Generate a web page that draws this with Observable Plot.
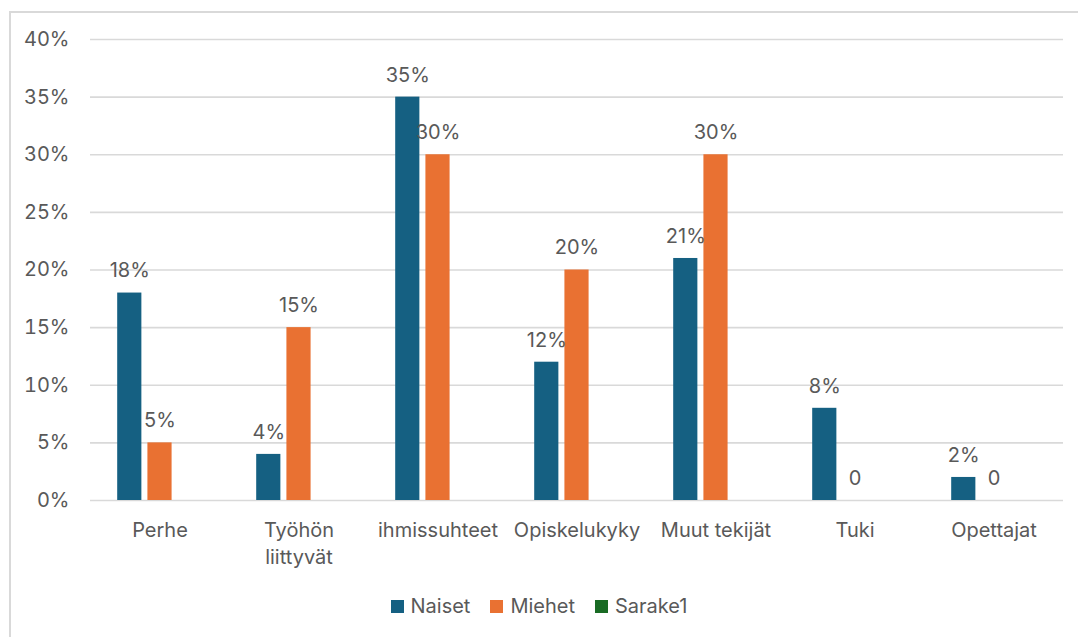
<!DOCTYPE html>
<html>
<head>
<meta charset="utf-8">
<script src="https://cdn.jsdelivr.net/npm/d3@7"></script>
<script src="https://cdn.jsdelivr.net/npm/@observablehq/plot@0.6"></script>
<style>
  html, body { margin: 0; padding: 0; background: #fff; width: 1078px; height: 637px; overflow: hidden; }
  #frame { position: absolute; left: 9px; top: 11px; width: 1200px; height: 800px;
           border-top: 2px solid #d9d9d9; border-left: 2px solid #d9d9d9; }
  #chart { position: absolute; left: 0; top: 0; }
  #legend { position: absolute; left: 0; width: 1078px; top: 594px; display: flex; justify-content: center;
            font-family: Inter, "Liberation Sans", sans-serif; font-size: 20px; color: #595959; }
  .item { display: flex; align-items: center; margin: 0 10px; }
  .sw { width: 13px; height: 13px; margin-right: 7px; }
</style>
</head>
<body>
<div id="frame"></div>
<div id="chart"></div>
<div id="legend"></div>
<script>
const categories = ["Perhe", "Työhön\nliittyvät", "ihmissuhteet", "Opiskelukyky", "Muut tekijät", "Tuki", "Opettajat"];
const naiset = [18, 4, 35, 12, 21, 8, 2];
const miehet = [5, 15, 30, 20, 30, 0, 0];
const series = ["Naiset", "Miehet", "Sarake1"];
const colors = ["#156082", "#e97132", "#196b24"];
const yTicks = [0, 5, 10, 15, 20, 25, 30, 35, 40];

const data = categories.flatMap((c, i) => [
  {cat: c, series: "Naiset", value: naiset[i]},
  {cat: c, series: "Miehet", value: miehet[i]}
]);

const chart = Plot.plot({
  width: 1078,
  height: 575,
  marginTop: 39,
  marginLeft: 89,
  marginRight: 15,
  marginBottom: 75,
  style: {fontFamily: "Inter, 'Liberation Sans', sans-serif", fontSize: "20px", color: "#595959", background: "transparent"},
  fx: {domain: categories, padding: 0, label: null},
  x: {domain: series, paddingInner: 0.2, paddingOuter: 0.9, round: false, axis: null},
  y: {domain: [0, 40], label: null},
  color: {domain: series, range: colors},
  marks: [
    Plot.gridY(yTicks, {stroke: "#d9d9d9", strokeOpacity: 1, strokeWidth: 1.6}),
    Plot.axisY({ticks: yTicks, tickFormat: d => d + "%", tickSize: 0, tickPadding: 21, label: null, fill: "#595959", fontSize: 20}),
    Plot.axisFx({anchor: "bottom", tickSize: 0, tickPadding: 18, label: null, fill: "#595959", fontSize: 20, lineHeight: 1.32}),
    Plot.barY(data, {fx: "cat", x: "series", y: "value", fill: "series"}),
    Plot.text(data, {fx: "cat", x: "series", y: "value", text: d => d.value === 0 ? "0" : d.value + "%", dy: -22, fill: "#595959", fontSize: 20})
  ]
});
document.getElementById("chart").appendChild(chart);

const legend = document.getElementById("legend");
series.forEach((s, i) => {
  const item = document.createElement("div");
  item.className = "item";
  const sw = document.createElement("span");
  sw.className = "sw";
  sw.style.background = colors[i];
  const t = document.createElement("span");
  t.textContent = s;
  item.appendChild(sw);
  item.appendChild(t);
  legend.appendChild(item);
});
</script>
</body>
</html>
